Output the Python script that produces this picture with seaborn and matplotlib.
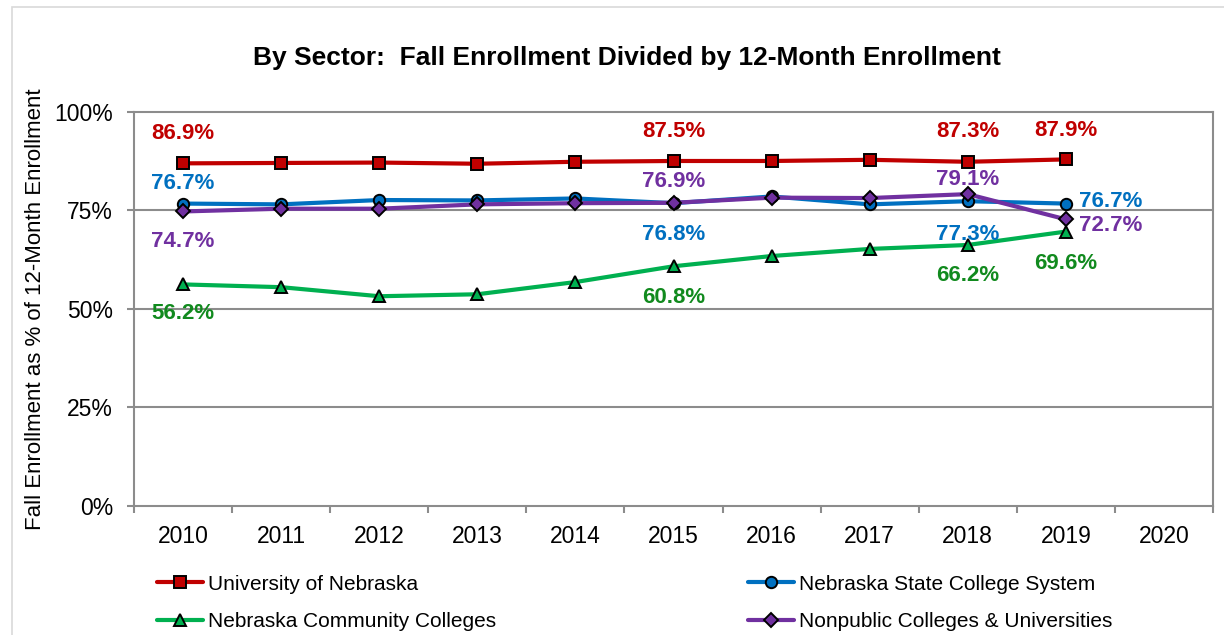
import numpy as np
import pandas as pd
import seaborn as sns
import matplotlib.pyplot as plt
from matplotlib.patches import Rectangle

years = [2010, 2011, 2012, 2013, 2014, 2015, 2016, 2017, 2018, 2019]
tick_years = [2010, 2011, 2012, 2013, 2014, 2015, 2016, 2017, 2018, 2019, 2020]

unl = [86.9, 87.0, 87.1, 86.8, 87.3, 87.5, 87.5, 87.8, 87.3, 87.9]
nscs = [76.7, 76.5, 77.6, 77.5, 78.0, 76.8, 78.5, 76.5, 77.3, 76.7]
ncc = [56.2, 55.5, 53.2, 53.7, 56.8, 60.8, 63.4, 65.2, 66.2, 69.6]
npu = [74.7, 75.4, 75.4, 76.5, 76.8, 76.9, 78.2, 78.1, 79.1, 72.7]

names = ['University of Nebraska', 'Nebraska State College System',
         'Nebraska Community Colleges', 'Nonpublic Colleges & Universities']

df = pd.DataFrame({'Year': years * 4,
                   'Value': unl + nscs + ncc + npu,
                   'Sector': sum([[n] * len(years) for n in names], [])})

line_colors = {'University of Nebraska': '#C00000',
               'Nebraska State College System': '#0070C0',
               'Nebraska Community Colleges': '#00B050',
               'Nonpublic Colleges & Universities': '#7030A0'}
text_colors = {'University of Nebraska': '#C00000',
               'Nebraska State College System': '#0070C0',
               'Nebraska Community Colleges': '#118A1E',
               'Nonpublic Colleges & Universities': '#7030A0'}
markers = {'University of Nebraska': 's',
           'Nebraska State College System': 'o',
           'Nebraska Community Colleges': '^',
           'Nonpublic Colleges & Universities': 'D'}
msize = {'s': 8.2, 'o': 8.2, '^': 8, 'D': 6.8}

# labelled points and the label offset from the point, in pixels (dx, dy)
labels = {
    'University of Nebraska': [(2010, 0, 30), (2015, 0, 29), (2018, 0, 30), (2019, 0, 29)],
    'Nebraska State College System': [(2010, 0, 20), (2015, 0, -31), (2018, 0, -33), (2019, 13, 2)],
    'Nebraska Community Colleges': [(2010, 0, -29), (2015, 0, -31), (2018, 0, -31), (2019, 0, -32)],
    'Nonpublic Colleges & Universities': [(2010, 0, -30), (2015, 0, 21), (2018, 0, 15), (2019, 13, -6)],
}

sns.set_style('white')
plt.rcParams['font.family'] = ['Liberation Sans', 'DejaVu Sans']
plt.rcParams['text.color'] = 'black'
plt.rcParams['axes.labelcolor'] = 'black'

grey = '#8C8C8C'
fig = plt.figure(figsize=(12.24, 6.35), dpi=100)
ax = fig.add_axes([0.1095, 0.2031, 0.8815, 0.621])

for y in [25, 50, 75]:
    ax.axhline(y, color=grey, lw=1.5, zorder=0)

for n in names:
    d = df[df['Sector'] == n]
    m = markers[n]
    sns.lineplot(data=d, x='Year', y='Value', ax=ax, color=line_colors[n], lw=3,
                 marker=m, markersize=msize[m], markerfacecolor=line_colors[n],
                 markeredgecolor='black', markeredgewidth=1.4, label=n)

for n in names:
    d = df[df['Sector'] == n].set_index('Year')['Value']
    for yr, dx, dy in labels[n]:
        v = d[yr]
        ha = 'center' if dx == 0 else 'left'
        ax.annotate(f'{v:.1f}%', (yr, v), xytext=(dx * 0.72, dy * 0.72),
                    textcoords='offset points', ha=ha, va='center', fontsize=16,
                    fontweight='bold', color=text_colors[n])

ax.set_xlim(2009.5, 2020.5)
ax.set_ylim(0, 100)
ax.set_xticks(tick_years)
ax.set_xticklabels([str(t) for t in tick_years], fontsize=16.5)
ax.set_xticks([t - 0.5 for t in tick_years] + [2020.5], minor=True)
ax.set_yticks([0, 25, 50, 75, 100])
ax.set_yticklabels(['0%', '25%', '50%', '75%', '100%'], fontsize=16.5)
ax.tick_params(axis='x', which='major', length=0, pad=14, labelcolor='black')
ax.tick_params(axis='x', which='minor', length=5, color=grey, width=1.5, bottom=True)
ax.tick_params(axis='y', which='major', length=5, color=grey, width=1.5, left=True,
               pad=10, labelcolor='black')
ax.set_xlabel('')
ax.set_ylabel('Fall Enrollment as % of 12-Month Enrollment', fontsize=16, labelpad=6)
for s in ['left', 'bottom', 'top', 'right']:
    ax.spines[s].set_color(grey)
    ax.spines[s].set_linewidth(1.5)

fig.text(0.512, 0.908, 'By Sector:  Fall Enrollment Divided by 12-Month Enrollment',
         fontsize=19, fontweight='bold', ha='center', va='center', color='black')

handles, labs = ax.get_legend_handles_labels()
order = [0, 2, 1, 3]
leg = ax.legend([handles[i] for i in order], [labs[i] for i in order],
                loc='upper left', bbox_to_anchor=(0.021, -0.174), ncol=2,
                frameon=False, fontsize=15, handlelength=2.2, handletextpad=0.25,
                columnspacing=12.1, labelspacing=0.9, borderaxespad=0, borderpad=0)
for t in leg.get_texts():
    t.set_color('black')

fig.patches.append(Rectangle((12 / 1224, -0.05), 1.2, 1 - 7 / 635 + 0.05,
                             transform=fig.transFigure, fill=False,
                             edgecolor='#D9D9D9', lw=1.2))

plt.savefig('out.png', dpi=100)
